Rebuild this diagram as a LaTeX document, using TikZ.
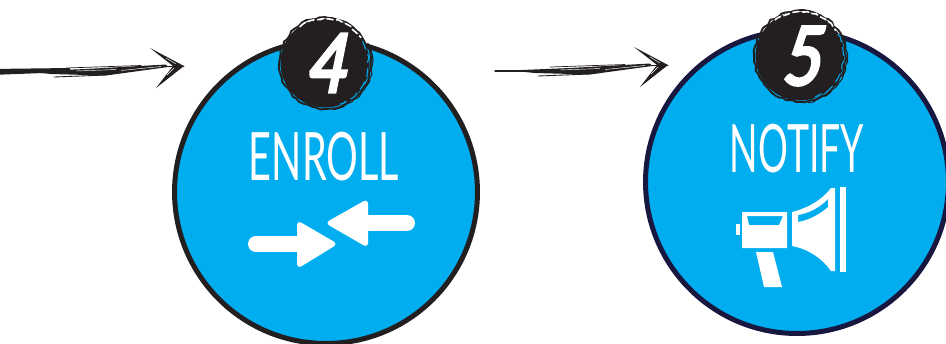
\documentclass[tikz,border=0pt]{standalone}
\usepackage{fontspec}
\setmainfont{Lato}
\newfontfamily\digitfont[FakeStretch=0.8,FakeSlant=0.2,FakeBold=4]{Lato}
\usetikzlibrary{decorations.pathmorphing}
\definecolor{stepblue}{HTML}{00ADEF}
\definecolor{inkblack}{HTML}{231F20}
\definecolor{inknavy}{HTML}{17173F}

\begin{document}
\begin{tikzpicture}[
    x=0.02cm, y=-0.02cm,
    stepcircle/.style={draw=inkblack, circle, line width=0.1cm, fill=stepblue, minimum size=6.06cm, inner sep=0pt},
    badge/.style={circle, fill=inkblack, minimum size=1.78cm, inner sep=0pt, text=white, font=\digitfont\fontsize{46}{46}\selectfont},
    rough/.style={decorate, decoration={random steps, segment length=2.5pt, amplitude=0.6pt}},
    steptitle/.style={text=white, xscale=0.56, font=\fontsize{38}{42}\selectfont, inner sep=0pt},
    icon/.style={fill=white, draw=none},
    iconarrow/.style={fill=white, draw=white, line width=0.1cm, line join=round},
    iconshaft/.style={draw=white, line width=0.32cm, line cap=round},
    inkline/.style={draw=inkblack, line cap=round},
    scratch/.style={draw=white, line cap=round, line width=0.25pt},
]
\useasboundingbox (0,0) rectangle (946,343);
\pgfmathsetseed{7}

% --- sketched arrows ---
\coordinate (arrowa-start) at (-10,72);
\coordinate (arrowb-start) at (495,71);

\foreach \name/\dx/\dy in {arrowa/-484/1, arrowb/0/0} {
    \begin{scope}[shift={(\dx,\dy)}]
    \fill[inkblack] (510,70.5) -- (570,68) -- (650,63.5) -- (652,66) -- (590,74.5) -- (535,73) -- cycle;
    \draw[inkline, line width=0.5pt] (645,65) -- (668,65);
    \draw[inkline, line width=0.5pt] (538,76) -- (590,74);
    \draw[inkline, line width=0.4pt] (550,67) -- (625,64.5);
    \draw[scratch] (560,70) -- (600,68.5);
    \draw[scratch] (605,69.5) -- (645,65.5);
    \fill[inkblack] (634,47) -- (668,65) -- (661,68) -- cycle;
    \fill[inkblack] (640,87) -- (657,65) -- (668,65) -- cycle;
    \draw[scratch] (650,57) -- (660,63);
    \draw[scratch] (651,74) -- (658,67);
    \end{scope}
}
\fill[inkblack] (arrowa-start) ++(0,-3) -- (70,68) -- (70,72) -- (-10,75) -- cycle;
\draw[inkline, line width=0.7pt] (arrowb-start) -- (540,71);

% --- circles ---
\node[stepcircle] (enroll) at (326,192) {};
\node[stepcircle, draw=inknavy] (notify) at (797,182) {};

\node[steptitle, xscale=1.06] (enroll-title) at (324,157) {ENROLL};
\node[steptitle] (notify-title) at (797,149) {NOTIFY};

% --- badges ---
\node[badge] (badge-four) at (325,63) {4};
\node[badge] (badge-five) at (800,56) {5};

\foreach \name/\bx/\by in {badge-four/325/63, badge-five/800/56} {
    \draw[inkblack, rough, line width=1.1pt] (\bx,\by) circle[radius=45.5];
    \draw[stepblue, rough, line width=0.6pt, dash pattern=on 5pt off 3pt] (\bx,\by) ++(-30:43.5) arc[start angle=-30, end angle=70, radius=43.5];
    \draw[white, rough, line width=0.9pt, dash pattern=on 4pt off 1.5pt] (\bx,\by) ++(-125:44) arc[start angle=-125, end angle=-35, radius=44];
    \draw[inkblack, rough, line width=0.6pt] (\bx,\by) ++(-25:47) arc[start angle=-25, end angle=80, radius=47];
}

% --- enroll icon ---
\draw[iconshaft] (256,244) -- (300,244);
\filldraw[iconarrow] (299.5,224.5) -- (333,244) -- (299.5,264.5) -- cycle;
\draw[iconshaft] (407,223) -- (365,223);
\filldraw[iconarrow] (365.5,203) -- (330,223) -- (365.5,243.5) -- cycle;

% --- notify icon ---
\fill[icon] (736,224) rectangle (740,235);
\fill[icon, even odd rule] (742,212) rectangle (787,248) (747,216) -- (783,216) -- (779,225) -- (749,225) -- cycle;
\fill[icon] (756,252) -- (773,252) -- (782,287) -- (764,287) -- cycle;
\fill[icon, even odd rule] (792,212) .. controls (808,208) and (822,200) .. (831,188) -- (835,188) -- (835,271) -- (831,271) .. controls (822,258) and (808,249) .. (792,246) -- cycle
    (798,215) .. controls (810,213) and (820,207) .. (828,199) -- (828,207) .. controls (820,214) and (810,220) .. (798,222) -- cycle;
\fill[icon] (840,187) rectangle (846,272);
\end{tikzpicture}
\end{document}
